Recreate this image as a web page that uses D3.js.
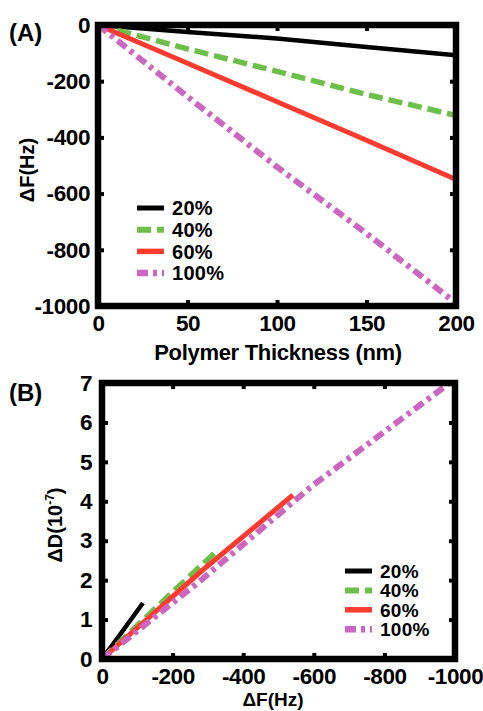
<!DOCTYPE html>
<html><head><meta charset="utf-8">
<script src="https://cdn.jsdelivr.net/npm/d3@7"></script>
<style>
body{margin:0;background:#fff;}
svg text{font-family:"Liberation Sans",Arial,Helvetica,sans-serif;font-weight:bold;fill:#000;}
</style></head>
<body><svg id="c" width="483" height="711"></svg>
<script>
// ---- data ----
const seriesNames = ["20%","40%","60%","100%"];
const thicknessNm = [0,50,100,150,200];
const dF20  = [0,-25,-48,-78,-108];
const dF40  = [0,-85,-165,-247,-322];
const dF60  = [0,-136,-273,-410,-550];
const dF100 = [0,-255,-505,-742,-990];
// panel B: dissipation vs frequency
const bF20  = [0,-60,-116];   const bD20  = [0,0.73,1.42];
const bF40  = [0,-212,-329];  const bD40  = [0,1.8,2.77];
const bF60  = [0,-278,-541];  const bD60  = [0,2.2,4.16];
const bF100 = [0,-278,-598,-980]; const bD100 = [0,1.98,4.41,6.97];
const ticksAx = [0,50,100,150,200];
const ticksAy = [0,-200,-400,-600,-800,-1000];
const ticksBx = [0,-200,-400,-600,-800,-1000];
const ticksBy = [0,1,2,3,4,5,6,7];

const colors = ["#000000","#6cc04a","#ff3b2f","#cc66c0"];
const dashes = [null,"14,6",null,"11,5,4,5"];
const widths = [4.5,5.5,5,6];

const svg = d3.select("#c");

function panel(cfg){
  const g = svg.append("g");
  const x = d3.scaleLinear().domain(cfg.xd).range(cfg.xr);
  const y = d3.scaleLinear().domain(cfg.yd).range(cfg.yr);
  const top = Math.min(...cfg.yr), bot = Math.max(...cfg.yr);
  const lft = Math.min(...cfg.xr), rgt = Math.max(...cfg.xr);
  // lines
  const line = d3.line().x(d=>x(d[0])).y(d=>y(d[1]));
  cfg.series.forEach((s,i)=>{
    g.append("path").datum(s.xs.map((v,k)=>[v,s.ys[k]]))
      .attr("d",line).attr("fill","none")
      .attr("stroke",colors[i]).attr("stroke-width",widths[i])
      .attr("stroke-dasharray",dashes[i]).attr("stroke-linecap","butt");
  });
  // frame
  g.append("rect").attr("x",lft).attr("y",top)
    .attr("width",rgt-lft).attr("height",bot-top)
    .attr("fill","none").attr("stroke","#000").attr("stroke-width",6.5);
  // axes
  const fmt = d => String(d);
  const ax = [
    [d3.axisBottom(x).tickValues(cfg.xt).tickPadding(9), `translate(0,${bot})`, true],
    [d3.axisTop(x).tickValues(cfg.xt), `translate(0,${top})`, false],
    [d3.axisLeft(y).tickValues(cfg.yt).tickPadding(cfg.lpad), `translate(${lft},0)`, true],
    [d3.axisRight(y).tickValues(cfg.yt), `translate(${rgt},0)`, false]
  ];
  ax.forEach(([a,t,lab])=>{
    a.tickSizeInner(-6).tickSizeOuter(0).tickFormat(lab? fmt: "");
    const ag = g.append("g").attr("transform",t).call(a);
    ag.select(".domain").remove();
    ag.selectAll("line").attr("stroke","#000").attr("stroke-width",4);
    ag.selectAll("text").attr("font-size",22.5).attr("font-family",null).attr("letter-spacing","-0.4");
  });
  // legend
  seriesNames.forEach((n,i)=>{
    const yy = cfg.leg[1] + i*cfg.leg[2];
    g.append("line").attr("x1",cfg.leg[0]).attr("x2",cfg.leg[0]+27)
      .attr("y1",yy).attr("y2",yy).attr("stroke",colors[i]).attr("stroke-width",widths[i]+0.5)
      .attr("stroke-dasharray",dashes[i]);
    g.append("text").attr("x",cfg.leg[0]+35).attr("y",yy).attr("dy","0.36em")
      .attr("font-size",cfg.leg[3]).attr("letter-spacing","0.3").text(n);
  });
  return {g,x,y};
}

// Panel A
const A = panel({
  xd:[0,200], xr:[98,456], yd:[0,-1000], yr:[25,306],
  xt:ticksAx, yt:ticksAy, lpad:8,
  series:[{xs:thicknessNm,ys:dF20},{xs:thicknessNm,ys:dF40},{xs:thicknessNm,ys:dF60},{xs:thicknessNm,ys:dF100}],
  leg:[137,208,21.7,20]
});
// Panel B
const B = panel({
  xd:[0,-1000], xr:[102,455], yd:[0,7], yr:[659,383],
  xt:ticksBx, yt:ticksBy, lpad:10,
  series:[{xs:bF20,ys:bD20},{xs:bF40,ys:bD40},{xs:bF60,ys:bD60},{xs:bF100,ys:bD100}],
  leg:[345,571,19.4,19]
});

// labels
svg.append("text").attr("x",9).attr("y",41).attr("font-size",24).text("(A)");
svg.append("text").attr("x",9).attr("y",401).attr("font-size",24).text("(B)");
svg.append("text").attr("x",278).attr("y",360).attr("text-anchor","middle")
  .attr("font-size",22).attr("letter-spacing","-0.3").text("Polymer Thickness (nm)");
svg.append("text").attr("transform","translate(34,170) rotate(-90)").attr("text-anchor","middle")
  .attr("font-size",20).text("ΔF(Hz)");
svg.append("text").attr("x",273).attr("y",706).attr("text-anchor","middle")
  .attr("font-size",19).text("ΔF(Hz)");
const yb = svg.append("text").attr("transform","translate(62,525) rotate(-90)").attr("text-anchor","middle")
  .attr("font-size",20);
yb.append("tspan").text("ΔD(10");
yb.append("tspan").attr("font-size",12).attr("dy",-8).text("-7");
yb.append("tspan").attr("dy",8).text(")");
</script></body></html>
